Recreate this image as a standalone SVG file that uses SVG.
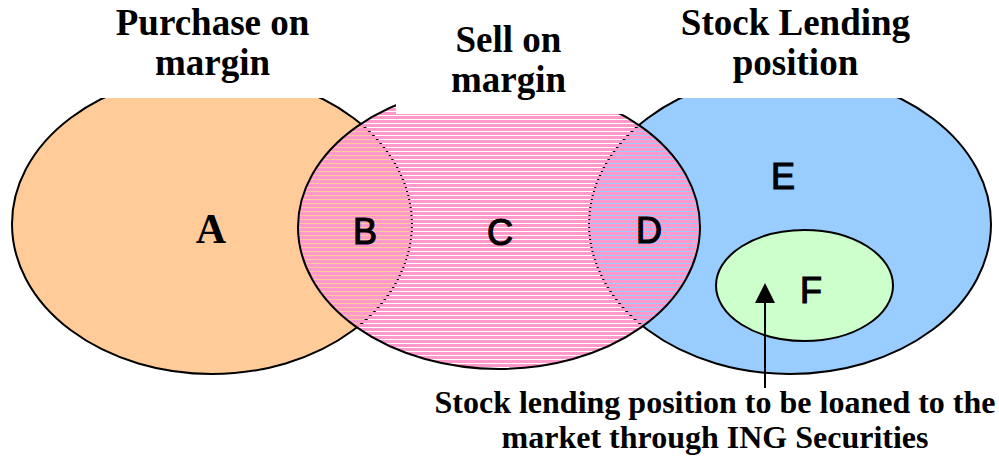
<svg xmlns="http://www.w3.org/2000/svg" width="999" height="457" viewBox="0 0 999 457">
  <style>
    .title { font-family: "Liberation Serif", "Times New Roman", serif; font-weight: bold; font-size: 37px; text-anchor: middle; fill: #000; }
    .note { font-family: "Liberation Serif", "Times New Roman", serif; font-weight: bold; font-size: 32px; text-anchor: middle; fill: #000; }
    .lbl { font-family: "Liberation Sans", Arial, sans-serif; font-size: 36px; text-anchor: middle; fill: #000; stroke: #000; stroke-width: 1.2; }
    .lblA { font-family: "Liberation Serif", "Times New Roman", serif; font-weight: bold; font-size: 42px; text-anchor: middle; fill: #000; }
    .set { stroke: #000; stroke-width: 2; }
  </style>
  <defs>
    <pattern id="stripes" patternUnits="userSpaceOnUse" x="0" y="0" width="10" height="4">
      <rect x="0" y="0" width="10" height="3" fill="#FF99CC" shape-rendering="crispEdges"/>
    </pattern>
  </defs>
  <rect x="0" y="0" width="999" height="457" fill="#fff"/>

  <g id="set-purchase">
    <ellipse class="set" cx="212" cy="224" rx="200" ry="150" fill="#FFCC99"/>
  </g>
  <g id="set-lending">
    <ellipse class="set" cx="790" cy="224" rx="201" ry="150" fill="#99CCFF"/>
  </g>
  <g id="set-sell">
    <ellipse class="set" cx="499" cy="227" rx="201" ry="142" fill="url(#stripes)"/>
  </g>
  <g id="set-loaned">
    <ellipse class="set" cx="804.5" cy="285.5" rx="88.5" ry="55.5" fill="#CCFFCC"/>
  </g>

  <!-- white masks behind titles -->
  <rect x="0" y="0" width="999" height="98" fill="#fff"/>
  <rect x="396" y="0" width="254" height="114" fill="#fff"/>

  <g id="titles">
    <text class="title" x="212.5" y="35">Purchase on</text>
    <text class="title" x="212.5" y="75">margin</text>
    <text class="title" x="508.5" y="52">Sell on</text>
    <text class="title" x="508.5" y="92">margin</text>
    <text class="title" x="795.5" y="35">Stock Lending</text>
    <text class="title" x="795.5" y="75">position</text>
  </g>

  <g id="labels">
    <text class="lblA" x="211" y="243">A</text>
    <text class="lbl" x="365" y="244">B</text>
    <text class="lbl" x="500" y="245">C</text>
    <text class="lbl" x="649" y="243">D</text>
    <text class="lbl" x="783" y="189">E</text>
    <text class="lbl" x="811" y="303">F</text>
  </g>

  <g id="connectors">
    <line x1="765" y1="388" x2="765" y2="300" stroke="#000" stroke-width="2"/>
    <polygon points="765,283 755,303 775,303" fill="#000"/>
  </g>

  <g id="note">
    <text class="note" x="715" y="413">Stock lending position to be loaned to the</text>
    <text class="note" x="715" y="448">market through ING Securities</text>
  </g>
</svg>
